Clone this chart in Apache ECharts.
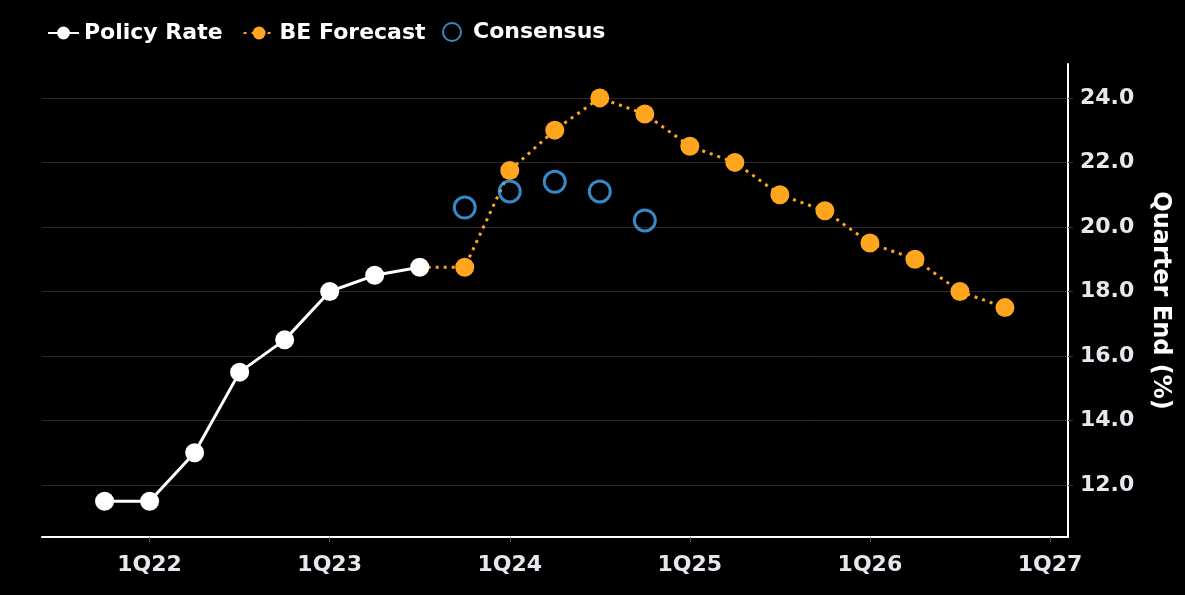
<!DOCTYPE html>
<html><head><meta charset="utf-8">
<script src="https://cdn.jsdelivr.net/npm/echarts@6/dist/echarts.min.js"></script>
<style>html,body{margin:0;padding:0;background:#000;}#c{width:1185px;height:595px;}</style>
</head><body><div id="c"></div>
<script>
// quarter index: 0 = 1Q22
const xTickValues = [0, 4, 8, 12, 16, 20];
const xTickLabels = ['1Q22', '1Q23', '1Q24', '1Q25', '1Q26', '1Q27'];
const yTickValues = [12, 14, 16, 18, 20, 22, 24];

const policyX = [-1, 0, 1, 2, 3, 4, 5, 6];
const policyY = [11.5, 11.5, 13.0, 15.5, 16.5, 18.0, 18.5, 18.75];

const forecastX = [6, 7, 8, 9, 10, 11, 12, 13, 14, 15, 16, 17, 18, 19];
const forecastY = [18.75, 18.75, 21.75, 23.0, 24.0, 23.5, 22.5, 22.0, 21.0, 20.5, 19.5, 19.0, 18.0, 17.5];

const consensusX = [7, 8, 9, 10, 11];
const consensusY = [20.6, 21.1, 21.4, 21.1, 20.2];

const FONT = 'DejaVu Sans';
const chart = echarts.init(document.getElementById('c'));
const pairs = (xs, ys) => xs.map((x, i) => [x, ys[i]]);
const legendText = { color: '#fff', fontSize: 22, fontWeight: 'bold', fontFamily: FONT };

chart.setOption({
  backgroundColor: '#000',
  animation: false,
  textStyle: { fontFamily: FONT },
  legend: [
    {
      left: 42, top: 17,
      itemWidth: 31, itemHeight: 16, itemGap: 20,
      textStyle: legendText,
      data: ['Policy Rate', 'BE Forecast']
    },
    {
      left: 437, top: 16,
      itemWidth: 18, itemHeight: 18,
      textStyle: Object.assign({}, legendText, { padding: [0, 0, 0, 7] }),
      data: ['Consensus']
    }
  ],
  grid: { left: 42, right: 117, top: 64, bottom: 58 },
  xAxis: {
    type: 'value', min: -2.39, max: 20.4,
    axisLine: { show: true, onZero: false, lineStyle: { color: '#fff', width: 2 } },
    axisTick: { show: true, customValues: xTickValues, length: 5, lineStyle: { color: '#555' } },
    axisLabel: {
      customValues: xTickValues, margin: 17,
      color: '#e6e8ee', fontSize: 22, fontWeight: 'bold', fontFamily: FONT,
      formatter: v => xTickLabels[xTickValues.indexOf(Math.round(v))] || ''
    },
    splitLine: { show: false }
  },
  yAxis: {
    type: 'value', position: 'right', min: 10.39, max: 25.05,
    name: 'Quarter End (%)', nameLocation: 'middle', nameRotate: -90, nameGap: 80,
    nameTextStyle: { color: '#fff', fontSize: 24, fontWeight: 'bold', fontFamily: FONT },
    axisLine: { show: true, onZero: false, lineStyle: { color: '#fff', width: 2 } },
    axisTick: { show: true, customValues: yTickValues, length: 5, lineStyle: { color: '#333' } },
    axisLabel: {
      customValues: yTickValues, margin: 12,
      color: '#e6e8ee', fontSize: 22, fontWeight: 'bold', fontFamily: FONT,
      formatter: v => v.toFixed(1)
    },
    splitLine: { show: true, lineStyle: { color: '#2a2a2a', width: 1 } }
  },
  series: [
    {
      name: 'BE Forecast', type: 'line', z: 2,
      data: pairs(forecastX, forecastY).map((p, i) => i === 0 ? { value: p, symbolSize: 0 } : p),
      symbol: 'circle', symbolSize: 19, showAllSymbol: true,
      lineStyle: { color: '#FFA51E', width: 3, type: [3, 5] },
      itemStyle: { color: '#FFA51E' }
    },
    {
      name: 'Policy Rate', type: 'line', z: 3,
      data: pairs(policyX, policyY),
      symbol: 'circle', symbolSize: 19, showAllSymbol: true,
      lineStyle: { color: '#fff', width: 3 },
      itemStyle: { color: '#fff' }
    },
    {
      name: 'Consensus', type: 'scatter', z: 4,
      data: pairs(consensusX, consensusY),
      symbol: 'circle', symbolSize: 21,
      itemStyle: { color: 'rgba(0,0,0,0)', borderColor: '#44AAF7', borderWidth: 3 }
    }
  ]
});
</script>
</body></html>
